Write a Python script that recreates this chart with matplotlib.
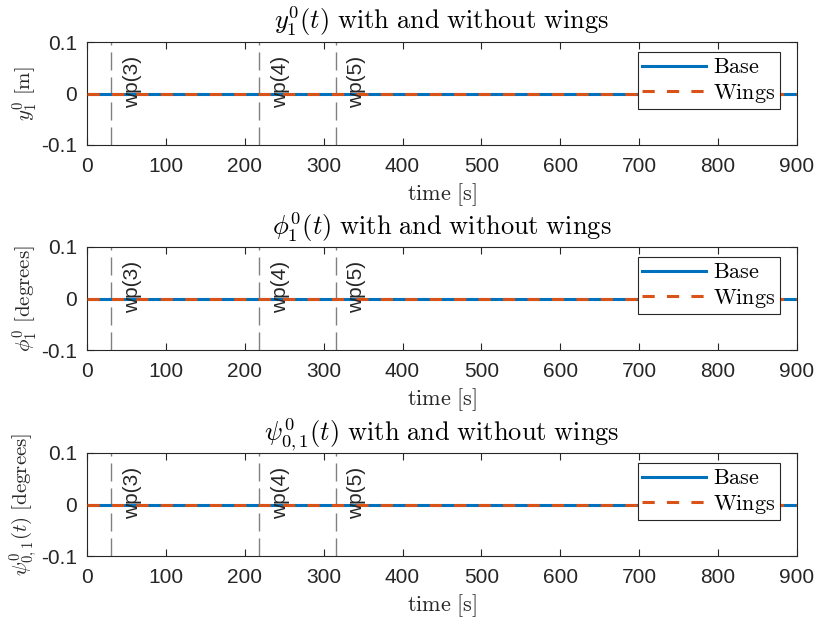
import matplotlib
matplotlib.use("Agg")
import matplotlib.pyplot as plt

plt.rcParams['mathtext.fontset'] = 'cm'
plt.rcParams['font.family'] = ['Liberation Sans', 'DejaVu Sans']

# data
time = [0, 900]
base_y1 = [0, 0]
wings_y1 = [0, 0]
base_phi = [0, 0]
wings_phi = [0, 0]
base_psi = [0, 0]
wings_psi = [0, 0]
wp_times = [31, 218, 315]
wp_labels = ['wp(3)', 'wp(4)', 'wp(5)']
xticks = [0, 100, 200, 300, 400, 500, 600, 700, 800, 900]
yticks = [-0.1, 0, 0.1]
yticklabels = ['-0.1', '0', '0.1']

titles = [r'$y_1^0(t)\ \mathrm{with\ and\ without\ wings}$',
          r'$\phi_1^0(t)\ \mathrm{with\ and\ without\ wings}$',
          r'$\psi_{0,1}^0(t)\ \mathrm{with\ and\ without\ wings}$']
ylabels = [r'$y_1^0\ \mathrm{[m]}$',
           r'$\phi_1^0\ \mathrm{[degrees]}$',
           r'$\psi_{0,1}^0(t)\ \mathrm{[degrees]}$']
series = [(base_y1, wings_y1), (base_phi, wings_phi), (base_psi, wings_psi)]

W, H = 821, 625
fig = plt.figure(figsize=(W / 100, H / 100), dpi=100)
left = 87 / W
width = (797 - 87) / W
tops = [42, 247, 453]
heights = 103
blue = (0 / 255, 114 / 255, 189 / 255)
orange = (217 / 255, 83 / 255, 25 / 255)
dark = (0.15, 0.15, 0.15)

for i in range(3):
    top = tops[i]
    ax = fig.add_axes([left, 1 - (top + heights) / H, width, heights / H])
    b, w = series[i]
    for xw, lab in zip(wp_times, wp_labels):
        ax.axvline(xw, color=(0.5, 0.5, 0.5), lw=1.0, dashes=(13, 5), zorder=1)
        ax.text(xw + 27, -0.028, lab, rotation=90, ha='center', va='bottom',
                fontsize=15, color=dark, zorder=4)
    ax.plot(time, b, color=blue, lw=2.2, label='Base', zorder=2)
    ax.plot(time, w, color=orange, lw=2.2, dashes=(4, 4), label='Wings', zorder=3)
    ax.set_xlim(0, 900)
    ax.set_ylim(-0.1, 0.1)
    ax.set_xticks(xticks)
    ax.set_yticks(yticks)
    ax.set_yticklabels(yticklabels)
    ax.tick_params(direction='in', top=True, right=True, labelsize=15,
                   colors=dark, length=5, width=0.8)
    ax.tick_params(axis='x', pad=8.5)
    ax.tick_params(axis='y', pad=7)
    for s in ax.spines.values():
        s.set_color(dark)
        s.set_linewidth(0.8)
    ax.set_title(titles[i], fontsize=19, pad=9, color='black')
    ax.set_xlabel(r'$\mathrm{time\ [s]}$', fontsize=16, color=dark, labelpad=4)
    ax.set_ylabel(ylabels[i], fontsize=15, color=dark, labelpad=1)
    leg = ax.legend(loc='upper right', bbox_to_anchor=(1 - 17 / 710, 1 - 10 / 103),
                    prop={'family': 'serif', 'size': 16}, handlelength=2.9,
                    fancybox=False, framealpha=1, edgecolor=dark,
                    borderpad=0.2, labelspacing=0.15, handletextpad=0.3,
                    borderaxespad=0)
    leg.get_frame().set_linewidth(0.8)
    for t in leg.get_texts():
        t.set_text(r'$\mathrm{' + t.get_text() + '}$')

fig.savefig('out.png', dpi=100)
